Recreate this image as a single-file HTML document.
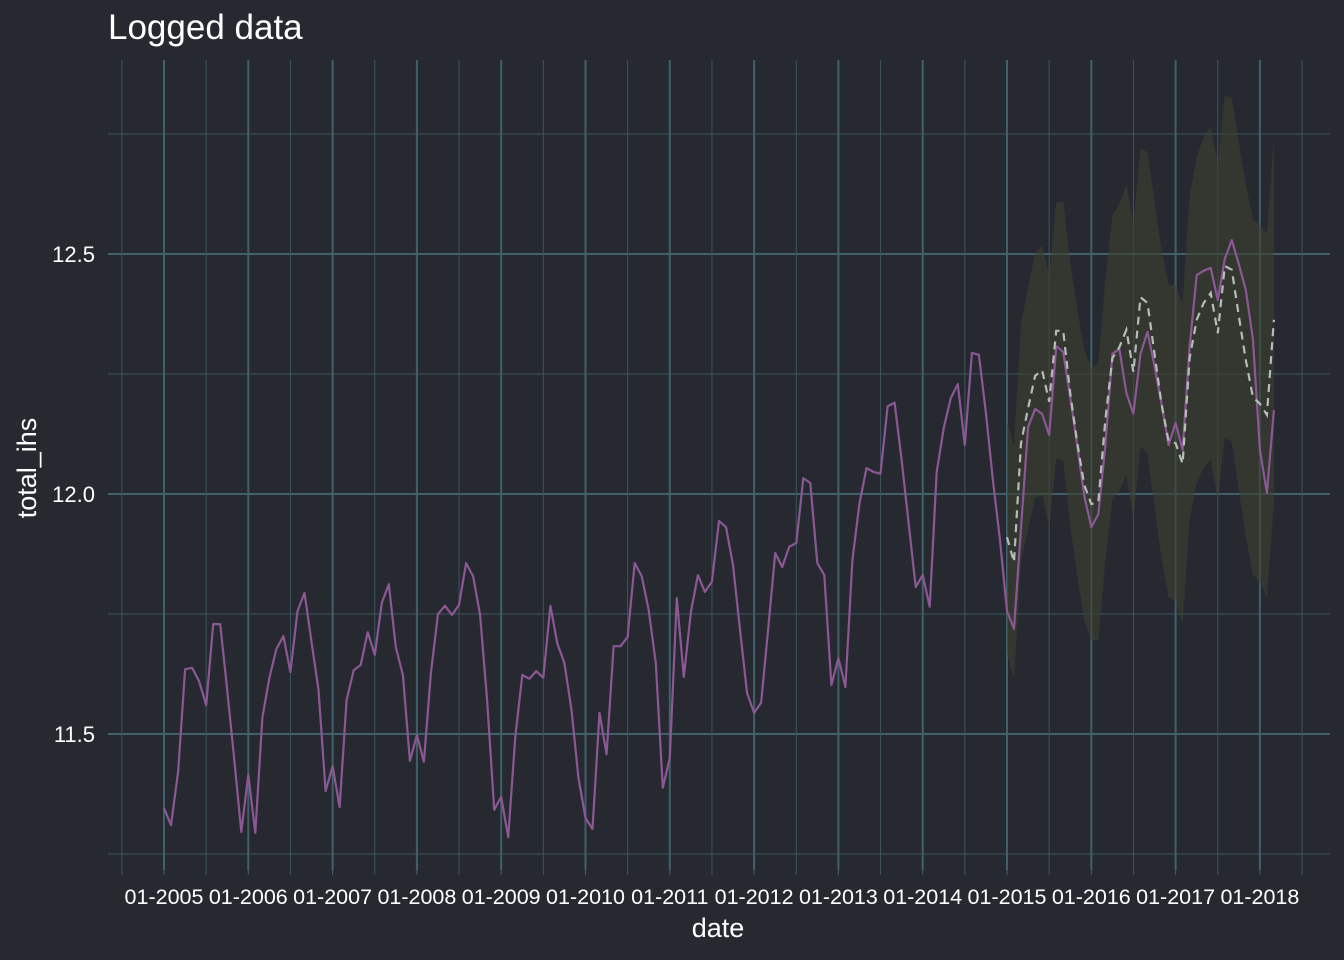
<!DOCTYPE html>
<html><head><meta charset="utf-8"><style>
html,body{margin:0;padding:0;background:#262a30;}
svg{display:block;font-family:"Liberation Sans",sans-serif;}
</style></head><body>
<svg id="chart" width="1344" height="960" viewBox="0 0 1344 960">
<rect x="0" y="0" width="1344" height="960" fill="#262a30"/>
<text x="108" y="39" font-size="35" fill="#ffffff">Logged data</text>
<g id="grid"></g>
<g id="band"></g>
<g id="series"></g>
<g id="axes"></g>
<text x="718" y="937" font-size="27" fill="#ffffff" text-anchor="middle">date</text>
<text transform="translate(36,468) rotate(-90)" font-size="27" fill="#ffffff" text-anchor="middle">total_ihs</text>
</svg>
<script>
const yearLabels = ["01-2005","01-2006","01-2007","01-2008","01-2009","01-2010","01-2011","01-2012","01-2013","01-2014","01-2015","01-2016","01-2017","01-2018"];
const yTicks = [11.5, 12.0, 12.5];
const yMinor = [11.25, 11.75, 12.25, 12.75];
const actual = [11.346,11.310,11.421,11.635,11.638,11.610,11.560,11.729,11.729,11.592,11.446,11.296,
11.415,11.294,11.535,11.617,11.677,11.704,11.629,11.756,11.794,11.692,11.592,11.381,
11.433,11.348,11.571,11.633,11.644,11.712,11.665,11.773,11.812,11.681,11.623,11.444,
11.498,11.442,11.627,11.750,11.767,11.748,11.769,11.856,11.829,11.748,11.571,11.342,
11.369,11.285,11.494,11.623,11.615,11.631,11.617,11.767,11.688,11.648,11.550,11.408,
11.325,11.302,11.544,11.458,11.683,11.683,11.702,11.856,11.829,11.758,11.648,11.388,
11.450,11.783,11.619,11.754,11.831,11.796,11.817,11.944,11.931,11.852,11.717,11.585,
11.544,11.565,11.717,11.877,11.848,11.890,11.898,12.033,12.023,11.856,11.831,11.602,
11.658,11.598,11.862,11.981,12.054,12.046,12.042,12.183,12.190,12.071,11.940,11.806,
11.831,11.765,12.046,12.138,12.200,12.229,12.102,12.294,12.290,12.169,12.029,11.904,
11.756,11.719,11.929,12.140,12.177,12.167,12.123,12.308,12.296,12.202,12.100,11.996,
11.931,11.958,12.100,12.292,12.302,12.210,12.167,12.292,12.338,12.267,12.188,12.102,
12.148,12.092,12.306,12.456,12.465,12.471,12.404,12.490,12.529,12.479,12.425,12.323,
12.092,12.002,12.175];
const forecastStart = 120;
const forecast = [11.910,11.858,12.106,12.179,12.246,12.258,12.192,12.340,12.340,12.210,12.106,12.019,
11.979,11.983,12.154,12.283,12.306,12.342,12.254,12.410,12.398,12.292,12.188,12.110,
12.106,12.063,12.283,12.363,12.398,12.419,12.335,12.475,12.467,12.371,12.279,12.202,
12.188,12.165,12.363];
const upper = [12.150,12.102,12.353,12.430,12.501,12.517,12.454,12.606,12.610,12.483,12.383,12.300,
12.263,12.271,12.446,12.579,12.605,12.645,12.561,12.720,12.712,12.610,12.509,12.435,
12.435,12.396,12.619,12.703,12.742,12.766,12.686,12.830,12.825,12.733,12.645,12.571,
12.561,12.542,12.743];
const lower = [11.670,11.614,11.859,11.928,11.991,11.999,11.930,12.074,12.070,11.937,11.829,11.738,
11.695,11.695,11.862,11.987,12.007,12.039,11.947,12.100,12.084,11.974,11.867,11.785,
11.777,11.730,11.947,12.023,12.054,12.072,11.984,12.120,12.109,12.009,11.913,11.833,
11.815,11.788,11.983];

const NS="http://www.w3.org/2000/svg";
const X0=164, MONTH=84.3/12, PL=108, PR=1330, PT=60, PB=870;
function xm(i){return X0+i*MONTH;}
function yv(v){return 494-(v-12)*480;}
function mk(tag,attrs,parent){const e=document.createElementNS(NS,tag);for(const k in attrs)e.setAttribute(k,attrs[k]);parent.appendChild(e);return e;}
const grid=document.getElementById('grid'), axes=document.getElementById('axes');
yMinor.forEach(v=>{
  const l=mk('line',{x1:PL,x2:PR,y1:yv(v),y2:yv(v),stroke:'#3c545c','stroke-width':1},grid);
  
  
});
yTicks.forEach(v=>{
  const l=mk('line',{x1:PL,x2:PR,y1:yv(v),y2:yv(v),stroke:'#41606a','stroke-width':2},grid);
  
  
  const t=mk('text',{x:95,y:yv(v)+8,'font-size':22,fill:'#ffffff','text-anchor':'end'},axes);
  t.textContent=v.toFixed(1);
  
  
});
for(let k=0;k<=yearLabels.length;k++){
  const xmn=xm(12*k-6);
  const l=mk('line',{x1:xmn,x2:xmn,y1:PT,y2:PB,stroke:'#3c545c','stroke-width':1},grid);
  
  
  mk('line',{x1:xmn,x2:xmn,y1:PB,y2:PB+5,stroke:'#3c545c','stroke-width':1},axes);
}
yearLabels.forEach((lab,k)=>{
  const x=xm(12*k);
  const l=mk('line',{x1:x,x2:x,y1:PT,y2:PB,stroke:'#41606a','stroke-width':2},grid);
  
  
  mk('line',{x1:x,x2:x,y1:PB,y2:PB+5,stroke:'#41606a','stroke-width':1},axes);
  const t=mk('text',{x:x,y:904,'font-size':21.5,fill:'#ffffff','text-anchor':'middle'},axes);
  t.textContent=lab;
  
  
});
let d='';
upper.forEach((v,j)=>{d+=(j?'L':'M')+xm(forecastStart+j).toFixed(1)+','+yv(v).toFixed(1);});
for(let j=lower.length-1;j>=0;j--){d+='L'+xm(forecastStart+j).toFixed(1)+','+yv(lower[j]).toFixed(1);}
const band=mk('path',{d:d+'Z',fill:'#3e4130','fill-opacity':0.6,stroke:'none'},document.getElementById('band'));


const series=document.getElementById('series');
const pa=mk('polyline',{points:actual.map((v,i)=>xm(i).toFixed(1)+','+yv(v).toFixed(1)).join(' '),fill:'none',stroke:'#8b5794','stroke-width':2.2,'stroke-linejoin':'round'},series);


const pf=mk('polyline',{points:forecast.map((v,j)=>xm(forecastStart+j).toFixed(1)+','+yv(v).toFixed(1)).join(' '),fill:'none',stroke:'#b4bdb7','stroke-width':2.2,'stroke-dasharray':'8,6'},series);


</script>
</body></html>
